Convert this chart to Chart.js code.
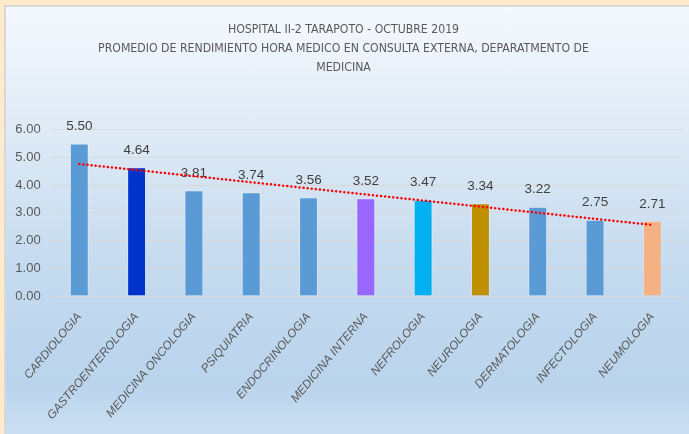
<!DOCTYPE html>
<html>
<head>
<meta charset="utf-8">
<script src="https://cdn.jsdelivr.net/npm/chart.js@4.4.1/dist/chart.umd.min.js"></script>
<style>
  html, body { margin: 0; padding: 0; }
  body { width: 689px; height: 434px; background: #FFEACC; position: relative; overflow: hidden; }
  #wrap {
    position: absolute; left: 4px; top: 5px; width: 683px; height: 427px;
    border-left: 2px solid #D8D8D8; border-top: 2px solid #D8D8D8;
    background: linear-gradient(180deg, #F5F9FE 0%, #E0EBF6 27%, #C4DAEF 62%, #BAD4EC 88%, #CADEF1 100%);
  }
  canvas { display: block; }
</style>
</head>
<body>
<div id="wrap"><canvas id="c" width="683" height="427"></canvas></div>
<script>
const titleLines = [
  "HOSPITAL II-2 TARAPOTO - OCTUBRE 2019",
  "PROMEDIO DE RENDIMIENTO HORA MEDICO EN CONSULTA EXTERNA, DEPARATMENTO DE",
  "MEDICINA"
];
const categories = [
  "CARDIOLOGIA", "GASTROENTEROLOGIA", "MEDICINA ONCOLOGIA", "PSIQUIATRIA",
  "ENDOCRINOLOGIA", "MEDICINA INTERNA", "NEFROLOGIA", "NEUROLOGIA",
  "DERMATOLOGIA", "INFECTOLOGIA", "NEUMOLOGIA"
];
const values = [5.50, 4.64, 3.81, 3.74, 3.56, 3.52, 3.47, 3.34, 3.22, 2.75, 2.71];
const barColors = [
  "#5B9BD5", "#0033CC", "#5B9BD5", "#5B9BD5", "#5B9BD5", "#9966FF",
  "#00B0F0", "#BF9000", "#5B9BD5", "#5B9BD5", "#F4B183"
];
const yTicks = [0, 1, 2, 3, 4, 5, 6];

// Linear trendline (least squares) computed from the bar values, as in the original.
const n = values.length;
const mx = (n - 1) / 2;
const my = values.reduce((a, b) => a + b, 0) / n;
let sxy = 0, sxx = 0;
values.forEach((v, i) => { sxy += (i - mx) * (v - my); sxx += (i - mx) * (i - mx); });
const slope = sxy / sxx;
const trend = values.map((v, i) => my + slope * (i - mx));

const valueLabels = {
  id: 'valueLabels',
  afterDatasetDraw(chart, args) {
    if (args.index !== 0) return;
    const ctx = chart.ctx;
    ctx.save();
    ctx.font = '13.5px "Liberation Sans", Arial, sans-serif';
    ctx.fillStyle = '#404040';
    ctx.textAlign = 'center';
    ctx.textBaseline = 'middle';
    args.meta.data.forEach((bar, i) => {
      ctx.fillText(values[i].toFixed(2), bar.x, bar.y - 17);
    });
    ctx.restore();
  }
};

new Chart(document.getElementById('c'), {
  data: {
    labels: categories,
    datasets: [
      {
        type: 'bar',
        data: values,
        backgroundColor: barColors,
        borderColor: 'rgba(255,255,255,0.25)',
        borderWidth: 1,
        categoryPercentage: 1,
        barPercentage: 0.33,
        order: 2
      },
      {
        type: 'line',
        data: trend,
        borderColor: '#FF0000',
        borderWidth: 2.5,
        borderDash: [0.1, 4],
        borderCapStyle: 'round',
        pointRadius: 0,
        fill: false,
        tension: 0,
        order: 1
      }
    ]
  },
  options: {
    responsive: false,
    animation: false,
    layout: { padding: { left: 0, right: 8, top: 0, bottom: 0 } },
    plugins: {
      legend: { display: false },
      tooltip: { enabled: false },
      title: {
        display: true,
        text: titleLines,
        color: '#595959',
        font: { family: '"DejaVu Sans Condensed", sans-serif', size: 12.2, weight: 'normal', lineHeight: 1.55 },
        padding: { top: 13.6, bottom: 52.2 }
      }
    },
    scales: {
      x: {
        grid: { display: false, drawTicks: false },
        border: { display: false },
        ticks: {
          color: '#595959',
          font: { family: '"Liberation Sans", Arial, sans-serif', size: 11.8, style: 'italic' },
          minRotation: 50,
          maxRotation: 50,
          autoSkip: false,
          padding: 14
        },
        afterFit(scale) { scale.height = 138; }
      },
      y: {
        min: 0,
        max: 6,
        afterBuildTicks(scale) { scale.ticks = yTicks.map(v => ({ value: v })); },
        grid: { color: '#D9D9D9', lineWidth: 1, drawTicks: false },
        border: { display: false },
        ticks: {
          color: '#595959',
          font: { family: '"Liberation Sans", Arial, sans-serif', size: 13 },
          padding: 10,
          callback: v => Number(v).toFixed(2)
        },
        afterFit(scale) { scale.width = 44.65; }
      }
    }
  },
  plugins: [valueLabels]
});
</script>
</body>
</html>
